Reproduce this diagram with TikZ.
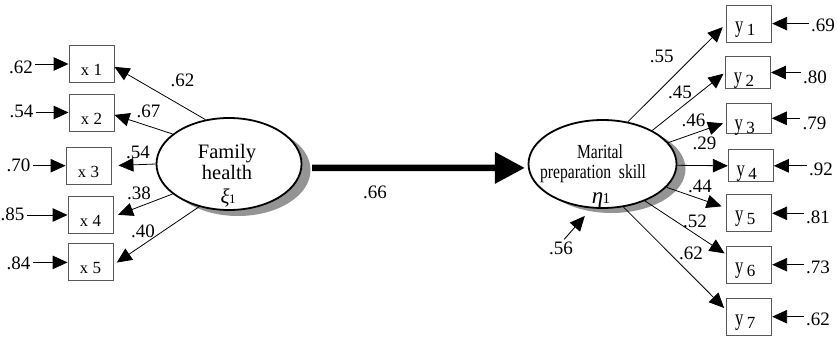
\documentclass[tikz,border=0pt]{standalone}
\usepackage{fontspec}
\setmainfont{Liberation Serif}
\usetikzlibrary{arrows.meta,shapes.geometric}
% indicator labels: variable letter followed by its index
\newcommand\xlab[1]{{\fontsize{16.5}{16.5}\selectfont x}\hspace{4.5pt}{\fontsize{17}{17}\selectfont #1}}
\newcommand\ylab[1]{\raisebox{3pt}{\fontsize{23}{23}\selectfont\scalebox{0.72}[1]{y}}\hspace{3.5pt}{\fontsize{17}{17}\selectfont #1}\kern8pt}
\begin{document}
\begin{tikzpicture}[x=1pt,y=-1pt,
  obs/.style={draw=black!65, line width=0.9pt, minimum width=45pt, inner xsep=0pt, inner ysep=0pt,
              text height=30pt, text depth=7pt},
  lat/.style={ellipse, draw, line width=1.8pt, fill=white, minimum width=145pt, minimum height=92pt, inner sep=0pt},
  latshadow/.style={ellipse, fill=black!42, minimum width=145pt, minimum height=92pt, inner sep=0pt},
  coef/.style={font=\fontsize{19}{19}\selectfont, inner sep=2pt},
  txt/.style={anchor=base, inner sep=0pt},
  load/.style={line width=0.8pt, -{Triangle[length=15pt,width=13.5pt]}},
  err/.style={line width=0.9pt, -{Triangle[length=15pt,width=13.5pt]}},
  regarrow/.style={line width=6.5pt, -{Triangle[length=30pt,width=30pt]}},
]
\useasboundingbox (0,0) rectangle (837,337);

% latent variables with drop shadows
\node[latshadow] (fhs) at (238,170) {};
\node[lat] (fh) at (229,164) {};
\node[latshadow, minimum width=148pt, minimum height=88pt] (mps) at (611.5,169) {};
\node[lat, minimum width=148pt, minimum height=88pt] (mp) at (602.5,164) {};

\node[txt, font=\fontsize{20.5}{20.5}\selectfont] (fht1) at (227,158.5) {Family};
\node[txt, font=\fontsize{20.5}{20.5}\selectfont] (fht2) at (227,179.5) {health};
\node[txt] (fht3) at (228,203) {{\fontsize{21}{21}\selectfont\itshape ξ}\kern-0.5pt{\fontsize{13}{13}\selectfont 1}};

\node[txt, font=\fontsize{20}{20}\selectfont] (mpt1) at (600,158.5) {\scalebox{0.78}[1]{Marital}};
\node[txt, font=\fontsize{20}{20}\selectfont] (mpt2) at (593,178.5) {\scalebox{0.78}[1]{preparation\ \ skill}};
\node[txt] (mpt3) at (601,203) {{\fontsize{23}{23}\selectfont\itshape η}\kern-0.5pt{\fontsize{15}{15}\selectfont 1}};

% exogenous indicators
\node[obs] (x1) at (91.5,64) {\xlab{1}};
\node[obs] (x2) at (91.5,112.5) {\xlab{2}};
\node[obs] (x3) at (88.5,165.7) {\xlab{3}};
\node[obs] (x4) at (90.5,215) {\xlab{4}};
\node[obs] (x5) at (90.5,262.4) {\xlab{5}};

% endogenous indicators
\node[obs] (y1) at (749.2,23.6) {\ylab{1}};
\node[obs, text depth=2pt] (y2) at (748,72.5) {\ylab{2}};
\node[obs, text depth=0pt] (y3) at (748.8,118.3) {\ylab{3}};
\node[obs, text depth=2pt] (y4) at (750.8,165.8) {\ylab{4}};
\node[obs] (y5) at (749.2,213.3) {\ylab{5}};
\node[obs] (y6) at (749.2,264.7) {\ylab{6}};
\node[obs] (y7) at (749.2,316.7) {\ylab{7}};

% error variances, left
\node[coef] (ex1) at (21,67) {.62};
\node[coef] (ex2) at (21.5,111.5) {.54};
\node[coef] (ex3) at (18.5,165.5) {.70};
\node[coef] (ex4) at (12.5,214) {.85};
\node[coef] (ex5) at (18.5,263) {.84};
\foreach \i in {1,...,5} \draw[err] (ex\i.east |- x\i) -- (x\i.west);

% error variances, right
\node[coef] (ey1) at (823,25) {.69};
\node[coef] (ey2) at (815,77.5) {.80};
\node[coef] (ey3) at (814.5,123) {.79};
\node[coef] (ey4) at (821,169) {.92};
\node[coef] (ey5) at (818,217.5) {.81};
\node[coef] (ey6) at (818,267) {.73};
\node[coef] (ey7) at (818,319) {.62};
\foreach \i in {1,...,7} \draw[err] (ey\i.west |- y\i) -- (y\i.east);

% loadings on family health
\draw[load] (fh.118.6) -- (x1.-7.5);
\draw[load] (fh.152) -- (x2.-6);
\draw[load, shorten >=7pt] (fh.180) -- (x3.0);
\draw[load, shorten >=5pt] (fh.208.5) -- (x4.-4.5);
\draw[load, shorten >=4pt] (fh.235) -- (x5.-6);
\node[coef] (lx1) at (182.5,80) {.62};
\node[coef] (lx2) at (148.5,111) {.67};
\node[coef] (lx3) at (138,152.5) {.54};
\node[coef] (lx4) at (139,193) {.38};
\node[coef] (lx5) at (143,231) {.40};

% loadings on marital preparation skill
\draw[load, shorten >=5pt] (mp.59.6) -- (y1.west);
\draw[load, shorten >=2pt] (mp.34.6) -- (y2.west);
\draw[load, shorten >=3pt] (mp.18.7) -- (y3.190);
\draw[load] (mp.-1) -- (y4.west);
\draw[load, shorten >=5pt] (mp.-20.3) -- (y5.167);
\draw[load, shorten >=2pt] (mp.-41.6) -- (y6.156);
\draw[load, shorten >=3pt] (mp.-64) -- (y7.164);
\node[coef] (ly1) at (661.7,56.7) {.55};
\node[coef] (ly2) at (680,92) {.45};
\node[coef] (ly3) at (693.5,120.5) {.46};
\node[coef] (ly4) at (704.5,143) {.29};
\node[coef] (ly5) at (700,186) {.44};
\node[coef] (ly6) at (695,221.5) {.52};
\node[coef] (ly7) at (691,253.5) {.62};

% disturbance of the endogenous factor
\node[coef] (d1) at (561,248) {.56};
\draw[err, shorten >=10pt] (d1.70) -- (mp.256);

% structural path
\draw[regarrow, shorten <=10pt, shorten >=3pt] (fh.-3) -- (mp.183);
\node[coef] (gam) at (375,192) {.66};
\end{tikzpicture}
\end{document}
